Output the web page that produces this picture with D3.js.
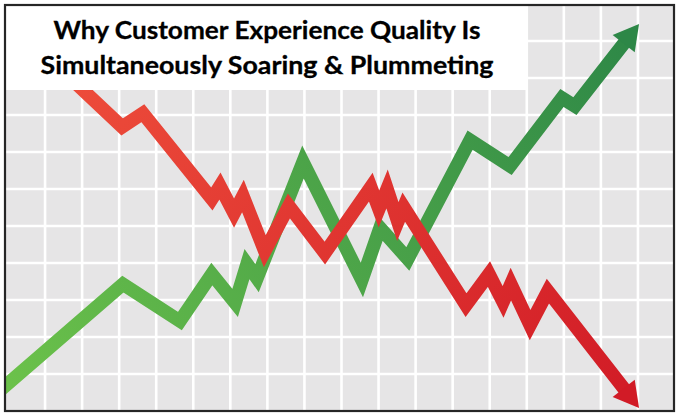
<!DOCTYPE html>
<html>
<head>
<meta charset="utf-8">
<script src="https://cdn.jsdelivr.net/npm/d3@7"></script>
<style>
  body { margin: 0; background: #fff; }
  svg { display: block; }
</style>
</head>
<body>
<svg id="chart" width="680" height="416"></svg>
<script>
// chart values, in grid units (x = column, y = row from bottom)
var titleLines = ["Why Customer Experience Quality Is", "Simultaneously Soaring & Plummeting"];
var gridCols = 18;
var gridRows = 11;

var greenX = [-0.2, 3.10, 4.64, 5.50, 6.13, 6.45, 6.72, 7.96, 9.55, 10.04, 10.79, 12.47, 13.55, 14.95, 15.30, 17.03];
var greenY = [0.57, 3.43, 2.43, 3.70, 2.92, 3.97, 3.59, 6.73, 3.54, 4.95, 4.11, 7.32, 6.62, 8.46, 8.24, 10.46];

var redX = [1.16, 3.08, 3.64, 5.50, 5.72, 6.10, 6.34, 6.93, 7.58, 8.55, 9.79, 10.01, 10.23, 10.52, 10.68, 12.36, 12.98, 13.36, 13.57, 14.09, 14.57, 17.03];
var redY = [9.49, 7.68, 8.05, 5.73, 6.08, 5.35, 5.81, 4.32, 5.54, 4.27, 6.05, 5.46, 6.00, 5.12, 5.51, 2.86, 3.70, 2.95, 3.43, 2.32, 3.24, 0.08];

var svg = d3.select("#chart");
var frame = { x: 5, y: 5, w: 669, h: 406 };

var x = d3.scaleLinear().domain([0, gridCols]).range([8, 675]);
var y = d3.scaleLinear().domain([0, gridRows]).range([411, 4]);

var defs = svg.append("defs");
defs.append("clipPath").attr("id", "frame-clip")
  .append("rect")
  .attr("x", frame.x).attr("y", frame.y)
  .attr("width", frame.w).attr("height", frame.h);

// background grid
var g = svg.append("g").attr("clip-path", "url(#frame-clip)");
g.append("rect")
  .attr("x", frame.x).attr("y", frame.y)
  .attr("width", frame.w).attr("height", frame.h)
  .attr("fill", "#e6e5e6");

g.selectAll(".vline")
  .data(d3.range(1, gridCols))
  .enter().append("line")
  .attr("class", "vline")
  .attr("x1", function (d) { return x(d); })
  .attr("x2", function (d) { return x(d); })
  .attr("y1", frame.y).attr("y2", frame.y + frame.h)
  .attr("stroke", "#fff").attr("stroke-width", 2.6);

g.selectAll(".hline")
  .data(d3.range(1, gridRows))
  .enter().append("line")
  .attr("class", "hline")
  .attr("x1", frame.x).attr("x2", frame.x + frame.w)
  .attr("y1", function (d) { return y(d); })
  .attr("y2", function (d) { return y(d); })
  .attr("stroke", "#fff").attr("stroke-width", 2.6);

function drawArrow(xs, ys, id, c0, c1) {
  var pts = xs.map(function (v, i) { return [x(v), y(ys[i])]; });
  var n = pts.length;
  var tip = pts[n - 1], prev = pts[n - 2];
  var dx = tip[0] - prev[0], dy = tip[1] - prev[1];
  var len = Math.sqrt(dx * dx + dy * dy);
  var ux = dx / len, uy = dy / len;
  var headLen = 25, headHalf = 14;
  var base = [tip[0] - ux * headLen, tip[1] - uy * headLen];

  var grad = defs.append("linearGradient")
    .attr("id", id)
    .attr("gradientUnits", "userSpaceOnUse")
    .attr("x1", pts[0][0]).attr("y1", pts[0][1])
    .attr("x2", tip[0]).attr("y2", tip[1]);
  grad.append("stop").attr("offset", "0%").attr("stop-color", c0);
  grad.append("stop").attr("offset", "100%").attr("stop-color", c1);

  var linePts = pts.slice(0, n - 1).concat([[base[0] + ux * 2, base[1] + uy * 2]]);
  g.append("path")
    .attr("d", d3.line()(linePts))
    .attr("fill", "none")
    .attr("stroke", "url(#" + id + ")")
    .attr("stroke-width", 13.5)
    .attr("stroke-linejoin", "miter")
    .attr("stroke-miterlimit", 4);

  g.append("path")
    .attr("d", d3.line()([
      tip,
      [base[0] - uy * headHalf, base[1] + ux * headHalf],
      [base[0] + uy * headHalf, base[1] - ux * headHalf]
    ]) + "Z")
    .attr("fill", c1);
}

drawArrow(greenX, greenY, "green-grad", "#6cc24a", "#2d8747");
drawArrow(redX, redY, "red-grad", "#ee4e3b", "#d11b26");

// title box
svg.append("rect")
  .attr("x", frame.x).attr("y", frame.y)
  .attr("width", x(14) - frame.x).attr("height", 90 - frame.y)
  .attr("fill", "#fff");

var titleWidths = [427, 453];
var titleBase = [39, 74];
svg.selectAll(".title")
  .data(titleLines)
  .enter().append("text")
  .attr("class", "title")
  .attr("x", 267)
  .attr("y", function (d, i) { return titleBase[i]; })
  .attr("text-anchor", "middle")
  .attr("textLength", function (d, i) { return titleWidths[i]; })
  .attr("lengthAdjust", "spacingAndGlyphs")
  .style("font-family", "Lato, 'Open Sans', sans-serif")
  .style("font-weight", "bold")
  .style("font-size", "25px")
  .attr("fill", "#000")
  .attr("stroke", "#000")
  .attr("stroke-width", 0.3)
  .text(function (d) { return d; });

// frame
svg.append("rect")
  .attr("x", frame.x).attr("y", frame.y)
  .attr("width", frame.w).attr("height", frame.h)
  .attr("fill", "none")
  .attr("stroke", "#262626")
  .attr("stroke-width", 2.2);
</script>
</body>
</html>
